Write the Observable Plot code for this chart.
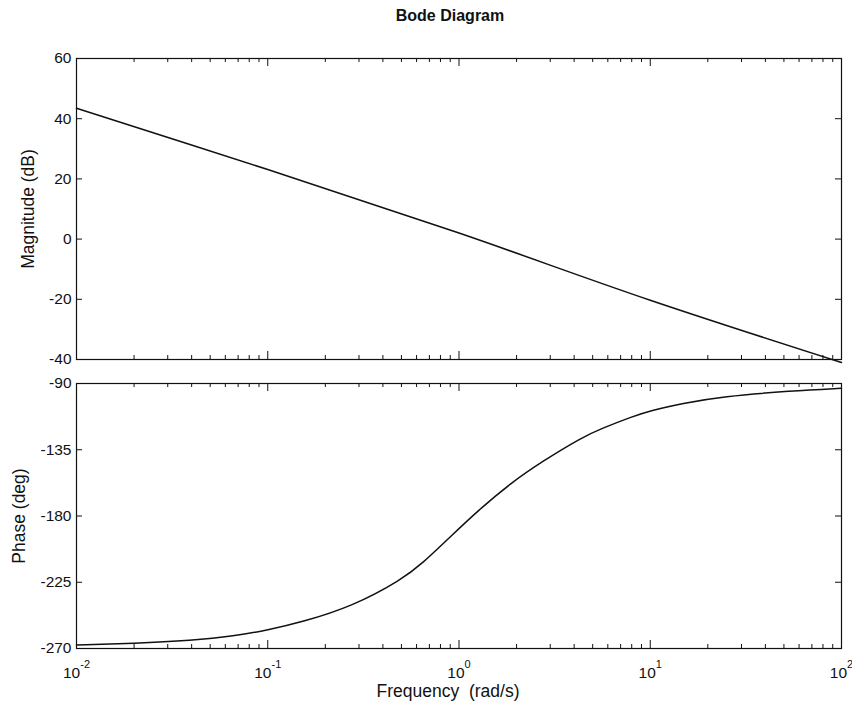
<!DOCTYPE html>
<html><head><meta charset="utf-8">
<script src="https://cdn.jsdelivr.net/npm/d3@7"></script>
<script src="https://cdn.jsdelivr.net/npm/@observablehq/plot@0.6"></script>
<style>
body{margin:0;background:#fff;}
#wrap{position:relative;width:852px;height:710px;font-family:"Liberation Sans",Arial,sans-serif;overflow:hidden;}
#title{position:absolute;left:0;width:900px;top:8px;text-align:center;font-weight:bold;font-size:16px;line-height:16px;color:#111;}
#mag,#phase{position:absolute;left:0;}
#mag{top:0px}
#phase{top:370px}
</style></head>
<body>
<div id="wrap">
  <div id="title">Bode Diagram</div>
  <div id="mag"></div>
  <div id="phase"></div>
</div>
<script>
// ---- data ----
const magFreq = [0.01, 0.1, 1, 10, 100];
const magDb   = [43.5, 23.1, 2.0, -20.3, -41];

const phaseFreq = [0.01, 0.02, 0.04, 0.067, 0.1, 0.151, 0.276, 0.504, 0.64, 0.92, 1.24, 1.89, 2.72, 4.4, 5.59, 8.03, 10, 14.7, 23.7, 55, 100];
const phaseDeg  = [-267.6, -266.5, -264.5, -261.5, -257.5, -252, -241.5, -223, -212.5, -193, -177, -157, -143, -126.5, -120.5, -112.5, -108.5, -103.5, -98.8, -95, -93.2];

const decadeTicks = [0.01, 0.1, 1, 10, 100];
const minorMultipliers = [2, 3, 4, 5, 6, 7, 8, 9];
const magTicks = [-40, -20, 0, 20, 40, 60];
const phaseTicks = [-270, -225, -180, -135, -90];

const titleText = "Bode Diagram";
const magLabel = "Magnitude (dB)";
const phaseLabel = "Phase (deg)";
const xLabel = "Frequency \u00a0(rad/s)";

// ---- derived tables ----
const minorTicks = decadeTicks.slice(0, -1).flatMap(d => minorMultipliers.map(m => m * d));
const magData = magFreq.map((f, i) => ({f, v: magDb[i]}));
const phaseData = phaseFreq.map((f, i) => ({f, v: phaseDeg[i]}));

const W = 852;
const mL = 76, mR = 11;
const FW = W - mL - mR;
const font = {fontFamily: "'Liberation Sans', Arial, sans-serif", fontSize: "15.5px", color: "#111", background: "transparent"};

function frameTicks(FH, yTicks) {
  return [
    Plot.tickX(decadeTicks, {x: d => d, insetBottom: FH - 8, stroke: "#111"}),
    Plot.tickX(decadeTicks, {x: d => d, insetTop: FH - 8, stroke: "#111"}),
    Plot.tickX(minorTicks, {x: d => d, insetBottom: FH - 4, stroke: "#111"}),
    Plot.tickX(minorTicks, {x: d => d, insetTop: FH - 4, stroke: "#111"}),
    Plot.tickY(yTicks, {y: d => d, insetRight: FW - 6, stroke: "#111"}),
    Plot.tickY(yTicks, {y: d => d, insetLeft: FW - 6, stroke: "#111"})
  ];
}

// ---- magnitude panel ----
const magH = 370, magTop = 58, magBottom = 11;
const magFH = magH - magTop - magBottom;
const magPlot = Plot.plot({
  width: W, height: magH,
  marginLeft: mL, marginRight: mR, marginTop: magTop, marginBottom: magBottom,
  style: font,
  x: {type: "log", domain: [0.01, 100], axis: null},
  y: {domain: [-40, 60]},
  marks: [
    Plot.axisY({ticks: magTicks, tickSize: 0, tickPadding: 5, label: null, tickFormat: d => String(d)}),
    ...frameTicks(magFH, magTicks),
    Plot.line(magData, {x: "f", y: "v", stroke: "#111", strokeWidth: 1.5, curve: "catmull-rom"}),
    Plot.frame({stroke: "#111", strokeWidth: 1.2}),
    Plot.text([magLabel], {text: d => d, frameAnchor: "left", textAnchor: "middle", dx: -48, rotate: -90, fontSize: 17.5, fill: "#111"})
  ]
});
document.getElementById("mag").appendChild(magPlot);

// ---- phase panel ----
const phH = 340, phTop = 13, phBottom = 62;
const phFH = phH - phTop - phBottom;
const phasePlot = Plot.plot({
  width: W, height: phH,
  marginLeft: mL, marginRight: mR, marginTop: phTop, marginBottom: phBottom,
  style: font,
  x: {type: "log", domain: [0.01, 100]},
  y: {domain: [-270, -90]},
  marks: [
    Plot.axisY({ticks: phaseTicks, tickSize: 0, tickPadding: 5, label: null, tickFormat: d => String(d)}),
    Plot.axisX({ticks: decadeTicks, tickSize: 0, tickPadding: 18, label: null,
                tickFormat: d => "10^" + Math.round(Math.log10(d))}),
    ...frameTicks(phFH, phaseTicks),
    Plot.line(phaseData, {x: "f", y: "v", stroke: "#111", strokeWidth: 1.5, curve: "basis"}),
    Plot.frame({stroke: "#111", strokeWidth: 1.2}),
    Plot.text([phaseLabel], {text: d => d, frameAnchor: "left", textAnchor: "middle", dx: -57, rotate: -90, fontSize: 17.5, fill: "#111"}),
    Plot.text([xLabel], {text: d => d, frameAnchor: "bottom", textAnchor: "middle", dx: -11, dy: 48, fontSize: 17.5, fill: "#111"})
  ]
});
document.getElementById("phase").appendChild(phasePlot);

// superscript exponents on the decade labels
phasePlot.querySelectorAll('g[aria-label="x-axis tick label"] text').forEach(t => {
  const s = t.textContent;
  const parts = s.split("^");
  if (parts.length !== 2) return;
  t.textContent = parts[0];
  const ts = document.createElementNS("http://www.w3.org/2000/svg", "tspan");
  ts.setAttribute("dy", "-10");
  ts.setAttribute("font-size", "11");
  ts.textContent = parts[1];
  t.appendChild(ts);
});
</script>
</body></html>
